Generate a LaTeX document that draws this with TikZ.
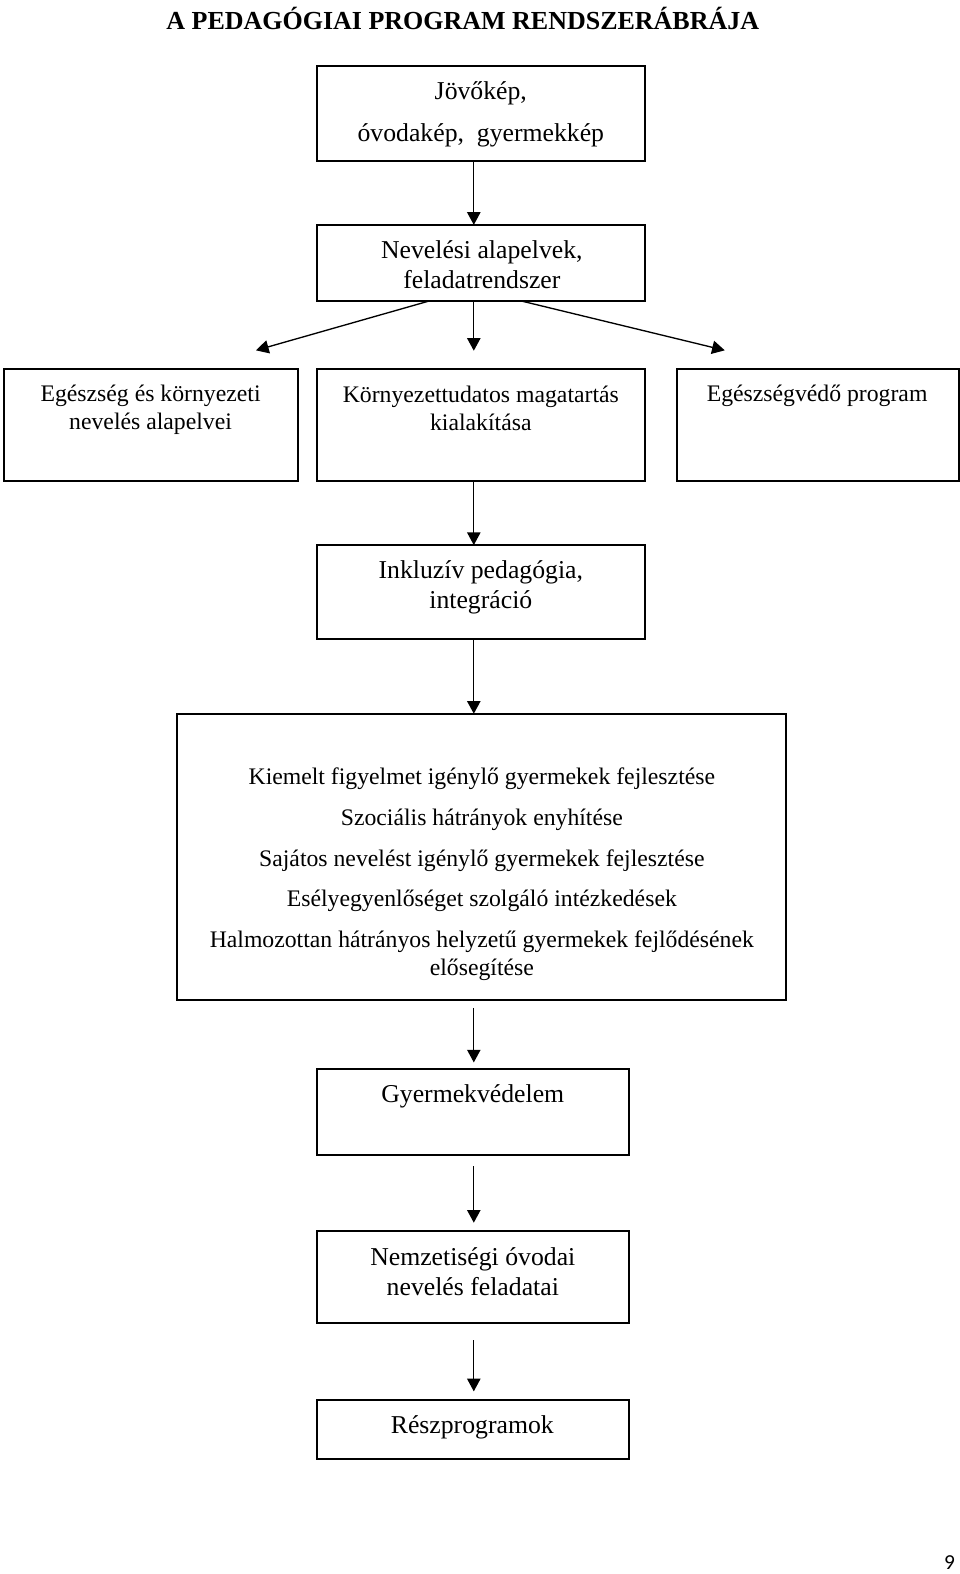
\documentclass[tikz,border=0pt]{standalone}
\usepackage{fontspec}
\setmainfont{Liberation Serif}
\newfontfamily\pagefont{Carlito}
\usetikzlibrary{arrows.meta}
\newdimen\pxu \pxu=0.7531pt
\tikzset{
  box/.style={draw,line width=1.5pt,inner sep=0pt,outer sep=0pt},
  txt/.style={align=center,inner sep=0pt,font=\fontsize{19.3}{23}\selectfont},
  stxt/.style={align=center,inner sep=0pt,font=\fontsize{17.8}{21}\selectfont},
  arr/.style={-{Triangle[width=10pt,length=9.5pt]},line width=1pt}
}
\begin{document}
\begin{tikzpicture}[x=0.7531pt,y=-0.7531pt]
       \useasboundingbox (0,0) rectangle (956,1568);
       \node[inner sep=0pt,font=\fontsize{19.5}{23}\selectfont\bfseries] (cim) at (461,18) {A PEDAGÓGIAI PROGRAM RENDSZERÁBRÁJA};
       \node[box,minimum width=327\pxu,minimum height=94\pxu] (jovo) at (479.5,113) {};
       \node[txt,font=\fontsize{19.3}{31.5}\selectfont] (jovotxt) at (479,113.5) {Jövőkép,\\óvodakép,\ \ gyermekkép};
       \node[box,minimum width=327\pxu,minimum height=76\pxu] (nev) at (479.5,262) {};
       \node[txt] (nevtxt) at (480,263.5) {Nevelési alapelvek,\\feladatrendszer};
       \node[box,minimum width=293\pxu,minimum height=111\pxu] (egesz) at (150.5,423.5) {};
       \node[stxt] (egesztxt) at (150,408) {Egészség és környezeti\\nevelés alapelvei};
       \node[box,minimum width=327\pxu,minimum height=111\pxu] (korny) at (479.5,423.5) {};
       \node[stxt] (kornytxt) at (479,406.5) {Környezettudatos magatartás\\kialakítása};
       \node[box,minimum width=281\pxu,minimum height=111\pxu] (vedo) at (814.5,423.5) {};
       \node[stxt] (vedotxt) at (814,394) {Egészségvédő program};
       \node[box,minimum width=327\pxu,minimum height=94\pxu] (inkl) at (479.5,590) {};
       \node[txt,font=\fontsize{19.3}{22.5}\selectfont] (inkltxt) at (479,585.5) {Inkluzív pedagógia,\\integráció};
       \node[box,minimum width=607\pxu,minimum height=285\pxu] (kiem) at (479.5,853.5) {};
       \node[stxt] (kiemtxt) at (480,871) {Kiemelt figyelmet igénylő gyermekek fejlesztése\\[9.5pt]
         Szociális hátrányok enyhítése\\[9.5pt]
         Sajátos nevelést igénylő gyermekek fejlesztése\\[9.5pt]
         Esélyegyenlőséget szolgáló intézkedések\\[9.5pt]
         Halmozottan hátrányos helyzetű gyermekek fejlődésének\\
         elősegítése};
       \node[box,minimum width=311\pxu,minimum height=86\pxu] (gyv) at (471.5,1108) {};
       \node[txt] (gyvtxt) at (471,1092) {Gyermekvédelem};
       \node[box,minimum width=311\pxu,minimum height=92\pxu] (nemz) at (471.5,1272) {};
       \node[txt,font=\fontsize{19.3}{22.5}\selectfont] (nemztxt) at (471,1267) {Nemzetiségi óvodai\\nevelés feladatai};
       \node[box,minimum width=311\pxu,minimum height=58\pxu] (resz) at (471.5,1424) {};
       \node[txt] (resztxt) at (470.5,1422) {Részprogramok};
       \node[inner sep=0pt,font=\pagefont\fontsize{16}{18}\selectfont] (oldal) at (946,1557) {9};
       \coordinate (ax) at (472,0);
       \coordinate (bal) at (427,0);
       \coordinate (jobb) at (520,0);
       \coordinate (balveg) at (255,349);
       \coordinate (jobbveg) at (722,349);
       \draw[arr] (jovo.south -| ax) -- (nev.north -| ax);
       \draw[arr] (nev.south -| bal) -- (balveg);
       \draw[arr,shorten >=14pt] (nev.south -| ax) -- (korny.north -| ax);
       \draw[arr] (nev.south -| jobb) -- (jobbveg);
       \draw[arr] (korny.south -| ax) -- (inkl.north -| ax);
       \draw[arr] (inkl.south -| ax) -- (kiem.north -| ax);
       \draw[arr,shorten <=6pt,shorten >=5pt] (kiem.south -| ax) -- (gyv.north -| ax);
       \draw[arr,shorten <=8pt,shorten >=6pt] (gyv.south -| ax) -- (nemz.north -| ax);
       \draw[arr,shorten <=12.75pt,shorten >=6.75pt] (nemz.south -| ax) -- (resz.north -| ax);
\end{tikzpicture}
\end{document}
